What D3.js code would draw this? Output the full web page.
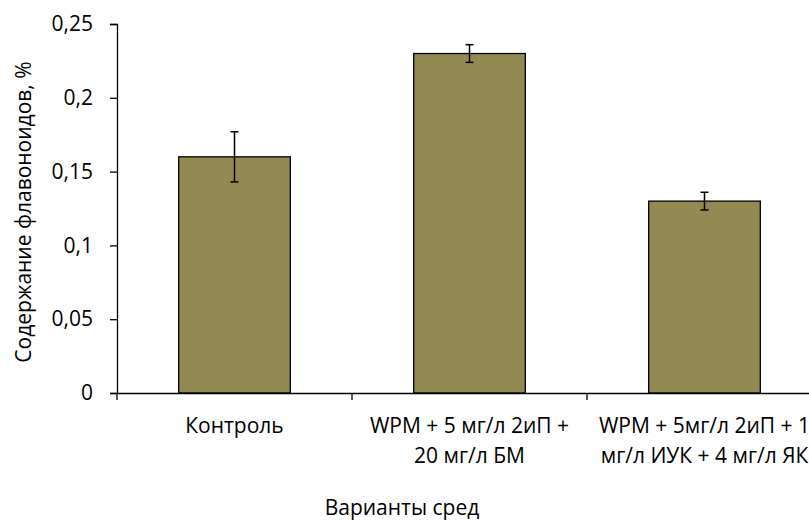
<!DOCTYPE html>
<html><head><meta charset="utf-8">
<script src="https://cdn.jsdelivr.net/npm/d3@7"></script>
<style>body{margin:0;background:#fff;} svg{display:block;font-family:"Open Sans",sans-serif;}</style>
</head><body>
<svg id="c" width="809" height="521"></svg>
<script>
const categories = ["Контроль", "WPM + 5 мг/л 2иП + 20 мг/л БМ", "WPM + 5мг/л 2иП + 1 мг/л ИУК + 4 мг/л ЯК"];
const labelLines = [["Контроль"], ["WPM + 5 мг/л 2иП +", "20 мг/л БМ"], ["WPM + 5мг/л 2иП + 1", "мг/л ИУК + 4 мг/л ЯК"]];
const values = [0.16, 0.23, 0.13];
const errors = [0.017, 0.006, 0.006];
const yTicks = [0, 0.05, 0.1, 0.15, 0.2, 0.25];
const yTickLabels = ["0", "0,05", "0,1", "0,15", "0,2", "0,25"];
const yTitle = "Содержание флавоноидов, %";
const xTitle = "Варианты сред";

const svg = d3.select("#c");
const x = d3.scaleBand().domain(categories).range([117, 822]).paddingInner(0.525).paddingOuter(0.2625);
const y = d3.scaleLinear().domain([0, 0.25]).range([393, 24]);
const step = x.step();

// bars
svg.append("g").selectAll("rect").data(values).join("rect")
  .attr("x", (d,i) => x(categories[i]))
  .attr("y", d => y(d))
  .attr("width", x.bandwidth())
  .attr("height", d => y(0) - y(d))
  .attr("fill", "#938953").attr("stroke", "#000").attr("stroke-width", 1.3);

// error bars
const eg = svg.append("g").attr("stroke", "#000").attr("stroke-width", 1.5);
values.forEach((v,i) => {
  const cx = x(categories[i]) + x.bandwidth()/2;
  eg.append("line").attr("x1", cx).attr("x2", cx).attr("y1", y(v+errors[i])).attr("y2", y(v-errors[i]));
  eg.append("line").attr("x1", cx-4).attr("x2", cx+4).attr("y1", y(v+errors[i])).attr("y2", y(v+errors[i]));
  eg.append("line").attr("x1", cx-4).attr("x2", cx+4).attr("y1", y(v-errors[i])).attr("y2", y(v-errors[i]));
});

// y axis
const yAxis = d3.axisLeft(y).tickValues(yTicks).tickFormat((d,i) => yTickLabels[i]).tickSize(7).tickPadding(17);
const yg = svg.append("g").attr("transform", "translate(117,0)").call(yAxis);
yg.select(".domain").attr("stroke", "#000").attr("stroke-width", 1.3);
yg.selectAll(".tick line").attr("stroke", "#000").attr("stroke-width", 1.3);
yg.selectAll(".tick text").attr("font-size", 21).attr("fill", "#000").attr("font-family", "Open Sans");

// x axis
const xAxis = d3.axisBottom(x).tickSize(0).tickFormat("");
const xg = svg.append("g").attr("transform", "translate(0,393)").call(xAxis);
xg.select(".domain").attr("stroke", "#000").attr("stroke-width", 1.3);
const boundaries = categories.map(c => x(c) - (step - x.bandwidth())/2);
xg.selectAll(".bt").data(boundaries).join("line").attr("class","bt")
  .attr("x1", d => d).attr("x2", d => d).attr("y1", 0).attr("y2", 7)
  .attr("stroke", "#000").attr("stroke-width", 1.3);

// category labels
const lg = svg.append("g").attr("font-size", 21).attr("fill", "#000").attr("text-anchor", "middle");
labelLines.forEach((lines,i) => {
  const cx = x(categories[i]) + x.bandwidth()/2;
  lines.forEach((t,j) => {
    lg.append("text").attr("x", cx).attr("y", 433 + j*30).text(t);
  });
});

svg.append("text").attr("transform", "translate(31,212) rotate(-90)").attr("text-anchor", "middle")
  .attr("font-size", 21).attr("fill", "#000").text(yTitle);
svg.append("text").attr("x", 402).attr("y", 515).attr("text-anchor", "middle")
  .attr("font-size", 21).attr("fill", "#000").text(xTitle);
</script>
</body></html>
